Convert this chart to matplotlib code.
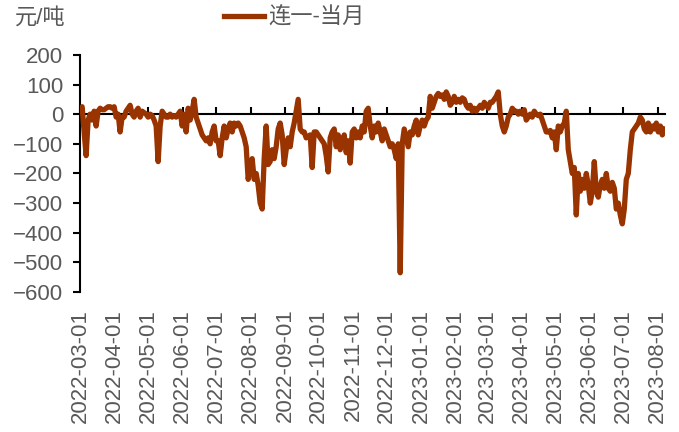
import numpy as np
import pandas as pd
import matplotlib
matplotlib.use("Agg")
import matplotlib.pyplot as plt
import matplotlib.dates as mdates

plt.rcParams['font.family'] = ['Liberation Sans', 'Noto Sans CJK SC']

# ─────────────────────────────────────────────
# Data
# ─────────────────────────────────────────────

start_date = "2022-03-01"
end_date = "2023-08-07"
series_name = "连一-当月"
unit_label = "元/吨"

values = [
    15, 25, -60, -140, -20, 0, -20, 10, -40, 10,
    20, 15, 15, 20, 25, 25, 20, 25, -10, 0,
    -60, -10, -10, 10, 20, 30, 0, -10, 10, 20,
    -10, 10, 5, 0, -10, 0, -5, -20, -40, -160,
    -40, 10, 0, -10, -10, 0, -10, -5, -10, 0,
    10, -40, 0, -60, 20, -20, 10, 50, -10, -30,
    -50, -70, -80, -90, -80, -100, -60, -40, -90, -90,
    -140, -80, -40, -80, -50, -30, -60, -30, -40, -30,
    -40, -60, -80, -110, -220, -180, -150, -220, -200, -240,
    -300, -320, -150, -40, -170, -160, -120, -150, -110, -50,
    -30, -70, -170, -120, -80, -110, -60, -30, 10, 50,
    -50, -60, -60, -80, -75, -70, -180, -60, -60, -70,
    -80, -90, -100, -140, -195, -80, -60, -50, -110, -70,
    -120, -100, -70, -130, -90, -165, -60, -50, -80, -60,
    -80, -40, -60, 10, 20, -40, -80, -40, -60, -30,
    -60, -90, -50, -70, -90, -110, -100, -120, -150, -100,
    -535, -100, -50, -80, -110, -60, -70, -40, -20, -70,
    -40, -20, -40, -20, -10, 60, 20, 40, 60, 70,
    60, 65, 50, 75, 60, 30, 40, 60, 40, 50,
    40, 55, 50, 30, 20, 30, 10, 20, 10, 20,
    30, 20, 40, 30, 20, 40, 40, 50, 60, 75,
    0, -40, -60, -40, -10, 0, 20, 10, 10, 0,
    10, 0, 15, -20, -10, 0, -10, 10, 0, -5,
    0, -20, -40, -60, -60, -55, -80, -60, -120, -40,
    -60, -40, -30, 10, -120, -160, -200, -180, -340, -200,
    -260, -220, -250, -200, -240, -300, -260, -160, -260, -280,
    -240, -220, -250, -200, -250, -260, -230, -250, -320, -300,
    -340, -370, -320, -220, -200, -120, -60, -50, -40, -30,
    -10, -20, -50, -60, -30, -60, -40, -50, -30, -60,
    -40, -70, -50,
]

month_ticks = pd.date_range("2022-03-01", "2023-08-01", freq="MS")
y_ticks = np.arange(-600, 201, 100)

dates = pd.date_range(start_date, end_date, periods=len(values))

# ─────────────────────────────────────────────
# Plot
# ─────────────────────────────────────────────

line_color = "#993300"
text_color = "#595959"

fig = plt.figure(figsize=(6.79, 4.32), dpi=100)
ax = fig.add_axes([0.118, 0.324, 0.862, 0.549])

ax.plot(dates, values, color=line_color, lw=3.8, zorder=3,
        solid_joinstyle="round", label=series_name)

ax.set_ylim(-600, 200)
ax.set_yticks(y_ticks)
ax.set_xlim(pd.Timestamp("2022-03-01"), pd.Timestamp("2023-08-08"))

# zero line acts as the x axis, ticks point upward
ax.spines["bottom"].set_position(("data", 0))
ax.spines["bottom"].set_linewidth(1.5)
ax.spines["left"].set_linewidth(1.5)
ax.spines["top"].set_visible(False)
ax.spines["right"].set_visible(False)
ax.set_xticks(month_ticks)
ax.tick_params(axis="x", direction="in", length=5, width=1.5,
               labelbottom=False)
ax.tick_params(axis="y", direction="out", length=5, width=1.5,
               labelsize=16, labelcolor=text_color, pad=7)

# date labels at the bottom of the plot area
sec = ax.secondary_xaxis("bottom")
sec.set_xticks(mdates.date2num(month_ticks))
sec.xaxis.set_major_formatter(mdates.DateFormatter("%Y-%m-%d"))
sec.spines["bottom"].set_visible(False)
sec.tick_params(axis="x", length=0, pad=12, labelsize=16,
                labelcolor=text_color, labelrotation=90)

fig.text(15 / 679, 1 - 18 / 432, unit_label, fontsize=16,
         color=text_color, va="center", ha="left")

fig.legend(loc="center left", bbox_to_anchor=(204 / 679, 1 - 18 / 432),
           frameon=False, fontsize=16, handlelength=1.8,
           handletextpad=0.2, labelcolor=text_color)

fig.savefig("out.png", dpi=100)
